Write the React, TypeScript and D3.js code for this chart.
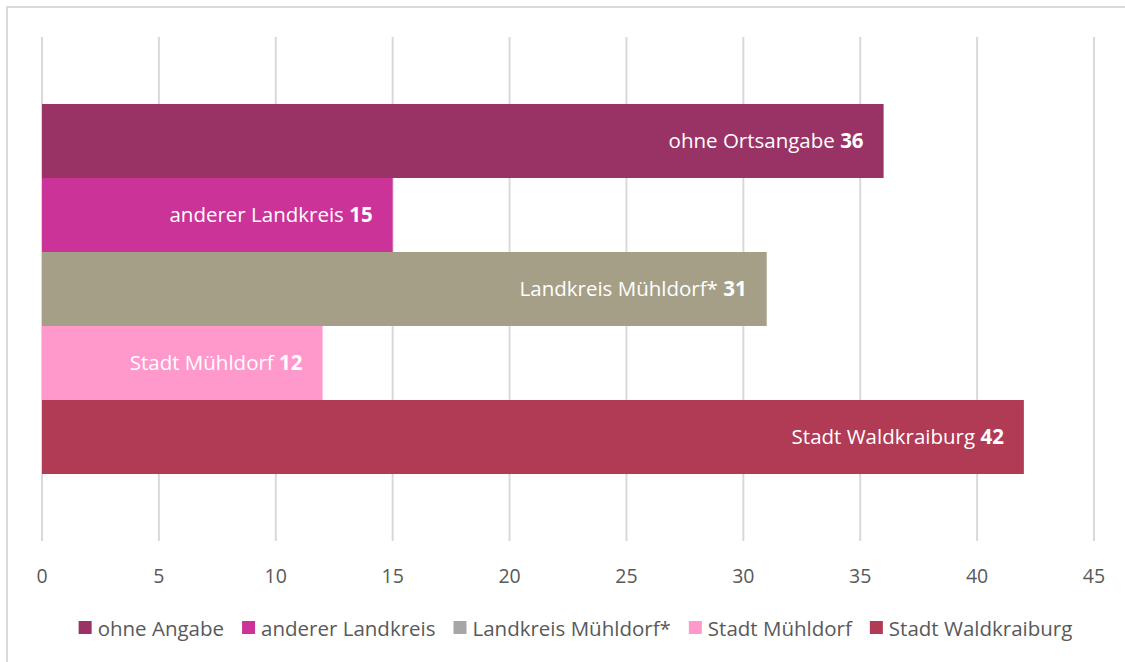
import React, { useEffect, useRef } from 'react';
import * as d3 from 'd3';

// Chart data
const categories = ['ohne Ortsangabe', 'anderer Landkreis', 'Landkreis Mühldorf*', 'Stadt Mühldorf', 'Stadt Waldkraiburg'];
const values = [36, 15, 31, 12, 42];
const barColors = ['#993366', '#CC3399', '#A59F87', '#FF99CC', '#B13A55'];
const legendLabels = ['ohne Angabe', 'anderer Landkreis', 'Landkreis Mühldorf*', 'Stadt Mühldorf', 'Stadt Waldkraiburg'];
const legendColors = ['#993366', '#CC3399', '#A6A6A6', '#FF99CC', '#B13A55'];
const xTicks = [0, 5, 10, 15, 20, 25, 30, 35, 40, 45];

const FONT = '"Open Sans", sans-serif';
const FS = 20.5;

const App: React.FC = () => {
  const svgRef = useRef<SVGSVGElement | null>(null);

  useEffect(() => {
    const svg = d3.select(svgRef.current);
    svg.selectAll('*').remove();

    const W = 1125;
    const H = 662;
    const plot = { left: 42, right: 1094, top: 37, bottom: 541 };

    svg.append('rect').attr('width', W).attr('height', H).attr('fill', '#fff');
    // outer chart border (right and bottom edges run off the picture)
    svg.append('rect')
      .attr('x', 7).attr('y', 7)
      .attr('width', W + 10).attr('height', H + 10)
      .attr('fill', 'none').attr('stroke', '#D9D9D9').attr('stroke-width', 2);

    const x = d3.scaleLinear().domain([0, 45]).range([plot.left, plot.right]);
    const y = d3.scaleBand<string>()
      .domain(categories)
      .range([plot.top, plot.bottom])
      .paddingInner(0)
      .paddingOuter(0.905);

    // gridlines
    svg.append('g').selectAll('line').data(xTicks).join('line')
      .attr('x1', d => x(d)).attr('x2', d => x(d))
      .attr('y1', plot.top).attr('y2', plot.bottom)
      .attr('stroke', '#D9D9D9').attr('stroke-width', 2);

    // tick labels
    svg.append('g').selectAll('text').data(xTicks).join('text')
      .attr('x', d => x(d)).attr('y', 583)
      .attr('text-anchor', 'middle')
      .attr('font-family', FONT).attr('font-size', 19.5)
      .attr('fill', '#595959')
      .text(d => String(d));

    const data = categories.map((c, i) => ({ c, v: values[i], color: barColors[i] }));

    // bars
    svg.append('g').selectAll('rect').data(data).join('rect')
      .attr('x', x(0))
      .attr('y', d => y(d.c)!)
      .attr('width', d => x(d.v) - x(0))
      .attr('height', y.bandwidth())
      .attr('fill', d => d.color);

    // bar labels
    const lbl = svg.append('g').selectAll('text').data(data).join('text')
      .attr('x', d => x(d.v) - 20)
      .attr('y', d => y(d.c)! + y.bandwidth() / 2 + 7)
      .attr('text-anchor', 'end')
      .attr('font-family', FONT).attr('font-size', FS)
      .attr('fill', '#fff');
    lbl.append('tspan').text(d => d.c + ' ');
    lbl.append('tspan').attr('font-weight', 'bold').text(d => String(d.v));

    // legend
    const gap = 18;
    const legend = svg.append('g');
    const items = legend.selectAll('g').data(legendLabels).join('g');
    items.append('rect')
      .attr('width', 13).attr('height', 13)
      .attr('y', 621)
      .attr('fill', (_, i) => legendColors[i]);
    items.append('text')
      .attr('x', 19).attr('y', 636)
      .attr('font-family', FONT).attr('font-size', FS)
      .attr('fill', '#595959')
      .text(d => d);

    let offset = 0;
    const positions: number[] = [];
    items.each(function () {
      positions.push(offset);
      const t = (this as SVGGElement).querySelector('text') as SVGTextElement;
      offset += 19 + t.getComputedTextLength() + gap;
    });
    const total = offset - gap;
    const start = 575.5 - total / 2;
    items.attr('transform', (_, i) => `translate(${start + positions[i]},0)`);
  }, []);

  return (
    <svg
      ref={svgRef}
      width={1125}
      height={662}
      style={{ display: 'block', position: 'absolute', left: 0, top: 0 }}
    />
  );
};

export default App;
